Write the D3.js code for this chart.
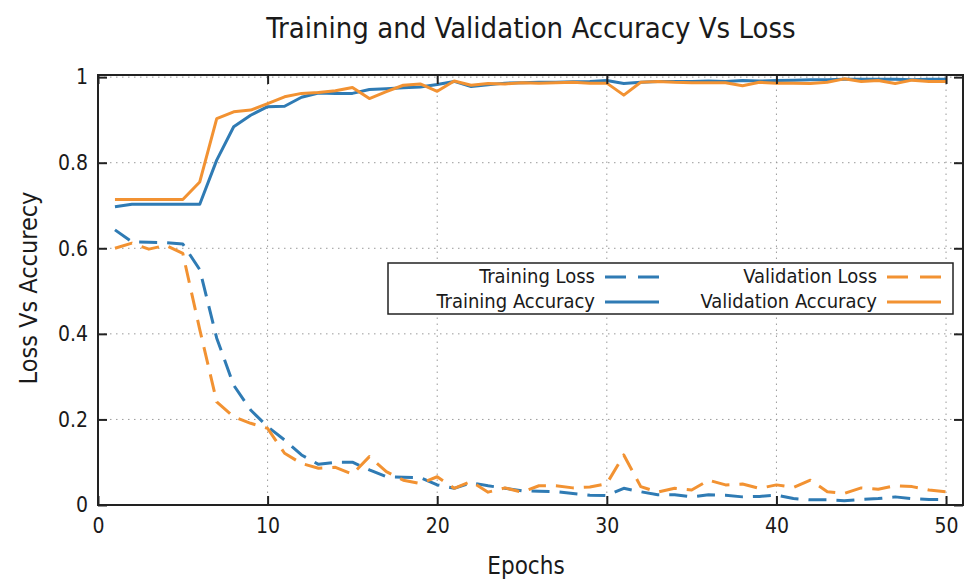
<!DOCTYPE html>
<html>
<head>
<meta charset="utf-8">
<script src="https://cdn.jsdelivr.net/npm/d3@7/dist/d3.min.js"></script>
<style>
  html, body { margin: 0; padding: 0; background: #fff; }
  svg { display: block; }
  text { font-family: "DejaVu Sans Condensed", "DejaVu Sans", sans-serif; fill: #1a1a1a; }
</style>
</head>
<body>
<svg id="chart" width="973" height="582"></svg>
<script>
// Per-epoch metrics
const epochs = [1,2,3,4,5,6,7,8,9,10,11,12,13,14,15,16,17,18,19,20,21,22,23,24,25,
                26,27,28,29,30,31,32,33,34,35,36,37,38,39,40,41,42,43,44,45,46,47,48,49,50];

const trainingLoss = [0.643,0.615,0.614,0.613,0.610,0.550,0.390,0.280,0.222,0.183,
                      0.152,0.117,0.095,0.100,0.100,0.082,0.066,0.065,0.064,0.047,
                      0.039,0.052,0.045,0.039,0.033,0.032,0.031,0.027,0.023,0.022,
                      0.039,0.031,0.024,0.024,0.019,0.024,0.023,0.019,0.020,0.023,
                      0.015,0.012,0.012,0.010,0.013,0.015,0.019,0.015,0.013,0.013];

const validationLoss = [0.600,0.612,0.598,0.607,0.588,0.410,0.241,0.206,0.191,0.179,
                        0.121,0.097,0.086,0.088,0.072,0.113,0.078,0.058,0.050,0.066,
                        0.039,0.055,0.030,0.040,0.030,0.045,0.045,0.040,0.042,0.050,
                        0.117,0.043,0.030,0.039,0.035,0.058,0.047,0.049,0.039,0.047,
                        0.041,0.058,0.031,0.027,0.040,0.037,0.045,0.043,0.035,0.031];

const trainingAccuracy = [0.697,0.703,0.703,0.703,0.703,0.703,0.806,0.884,0.911,0.931,
                          0.932,0.953,0.963,0.962,0.962,0.971,0.973,0.975,0.977,0.983,
                          0.990,0.978,0.982,0.986,0.987,0.988,0.988,0.989,0.990,0.992,
                          0.985,0.988,0.990,0.990,0.990,0.991,0.990,0.992,0.991,0.992,
                          0.993,0.994,0.994,0.995,0.995,0.995,0.995,0.994,0.995,0.995];

const validationAccuracy = [0.714,0.714,0.714,0.714,0.714,0.755,0.903,0.919,0.923,0.938,
                            0.954,0.962,0.964,0.968,0.976,0.950,0.966,0.981,0.984,0.967,
                            0.991,0.981,0.985,0.984,0.987,0.986,0.987,0.988,0.986,0.986,
                            0.958,0.988,0.990,0.988,0.987,0.987,0.987,0.980,0.988,0.986,
                            0.986,0.985,0.988,0.996,0.990,0.992,0.985,0.993,0.990,0.990];

const xTicks = [0,10,20,30,40,50];
const yTicks = [0,0.2,0.4,0.6,0.8,1];

const chartTitle = "Training and Validation Accuracy Vs Loss";
const xLabel = "Epochs";
const yLabel = "Loss Vs Accurecy";

const BLUE = "#2f7bb4";
const ORANGE = "#f29232";

const seriesList = [
  { name: "Training Loss",       values: trainingLoss,       color: BLUE,   dashed: true  },
  { name: "Validation Loss",     values: validationLoss,     color: ORANGE, dashed: true  },
  { name: "Training Accuracy",   values: trainingAccuracy,   color: BLUE,   dashed: false },
  { name: "Validation Accuracy", values: validationAccuracy, color: ORANGE, dashed: false }
];

(function draw() {
  const svg = d3.select("#chart");
  const pLeft = 98, pRight = 963, pTop = 75, pBottom = 505;

  const x = d3.scaleLinear().domain([0, 51]).range([pLeft, pRight]);
  const y = d3.scaleLinear().domain([0, 1.005]).range([pBottom, pTop]);

  // Grid
  const grid = svg.append("g").attr("stroke", "#9a9a9a").attr("stroke-width", 1)
    .attr("stroke-dasharray", "1.5,4.5");
  grid.selectAll("line.gx").data(xTicks.filter(d => d > 0)).join("line")
    .attr("class", "gx")
    .attr("x1", d => x(d)).attr("x2", d => x(d)).attr("y1", pBottom).attr("y2", pTop);
  grid.selectAll("line.gy").data(yTicks.filter(d => d > 0)).join("line")
    .attr("class", "gy")
    .attr("y1", d => y(d)).attr("y2", d => y(d)).attr("x1", pLeft).attr("x2", pRight);

  // Series
  const lineGen = d3.line()
    .x((d, i) => x(epochs[i]))
    .y(d => y(d));

  const plot = svg.append("g");
  seriesList.forEach(s => {
    plot.append("path")
      .attr("d", lineGen(s.values))
      .attr("fill", "none")
      .attr("stroke", s.color)
      .attr("stroke-width", 3)
      .attr("stroke-linejoin", "round")
      .attr("stroke-dasharray", s.dashed ? "18,10" : null);
  });

  // Axes (ticks drawn inward, mirrored on top/right)
  const tickLen = 9;
  const axB = svg.append("g").attr("transform", `translate(0,${pBottom})`)
    .call(d3.axisBottom(x).tickValues(xTicks).tickSizeInner(-tickLen).tickSizeOuter(0).tickPadding(13));
  const axT = svg.append("g").attr("transform", `translate(0,${pTop})`)
    .call(d3.axisTop(x).tickValues(xTicks).tickSizeInner(-tickLen).tickSizeOuter(0).tickFormat(""));
  const axL = svg.append("g").attr("transform", `translate(${pLeft},0)`)
    .call(d3.axisLeft(y).tickValues(yTicks).tickSizeInner(-tickLen).tickSizeOuter(0).tickPadding(10)
          .tickFormat(d => d === 0 || d === 1 ? String(d) : d3.format(".1f")(d)));
  const axR = svg.append("g").attr("transform", `translate(${pRight},0)`)
    .call(d3.axisRight(y).tickValues(yTicks).tickSizeInner(-tickLen).tickSizeOuter(0).tickFormat(""));

  [axB, axT, axL, axR].forEach(g => {
    g.select(".domain").remove();
    g.selectAll(".tick line").attr("stroke", "#222").attr("stroke-width", 2);
    g.selectAll("text").attr("font-size", 21).attr("fill", "#1a1a1a")
      .style("font-family", '"DejaVu Sans Condensed", "DejaVu Sans", sans-serif');
  });

  // Border
  svg.append("rect").attr("x", pLeft).attr("y", pTop)
    .attr("width", pRight - pLeft).attr("height", pBottom - pTop)
    .attr("fill", "none").attr("stroke", "#222").attr("stroke-width", 2);

  // Legend
  const lg = svg.append("g");
  lg.append("rect").attr("x", 388).attr("y", 263).attr("width", 565).attr("height", 51)
    .attr("fill", "#fff").attr("stroke", "#222").attr("stroke-width", 1.5);
  const legendPos = [
    { tx: 595, sx: 605, ry: 276 },
    { tx: 877, sx: 887, ry: 276 },
    { tx: 595, sx: 605, ry: 301 },
    { tx: 877, sx: 887, ry: 301 }
  ];
  seriesList.forEach((s, i) => {
    const p = legendPos[i];
    lg.append("text").attr("x", p.tx).attr("y", p.ry).attr("dy", "0.35em")
      .attr("text-anchor", "end").attr("font-size", 20).text(s.name);
    lg.append("line").attr("x1", p.sx).attr("x2", p.sx + 54)
      .attr("y1", p.ry + 1).attr("y2", p.ry + 1)
      .attr("stroke", s.color).attr("stroke-width", 3)
      .attr("stroke-dasharray", s.dashed ? "21,12" : null);
  });

  // Titles
  svg.append("text").attr("x", 531).attr("y", 28).attr("dy", "0.35em")
    .attr("text-anchor", "middle").attr("font-size", 29).text(chartTitle);
  svg.append("text").attr("x", 526).attr("y", 566).attr("dy", "0.35em")
    .attr("text-anchor", "middle").attr("font-size", 24).text(xLabel);
  svg.append("text").attr("transform", "translate(28,288) rotate(-90)").attr("dy", "0.35em")
    .attr("text-anchor", "middle").attr("font-size", 25).text(yLabel);
})();
</script>
</body>
</html>
